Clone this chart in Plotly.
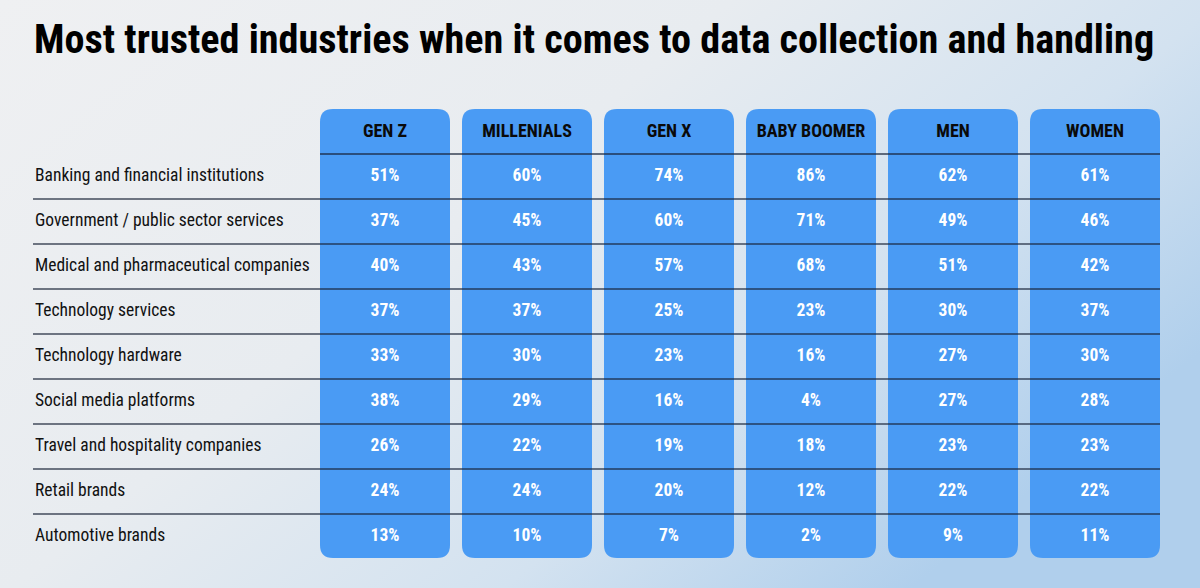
import base64
import plotly.graph_objects as go

# table content
groups = ['GEN Z', 'MILLENIALS', 'GEN X', 'BABY BOOMER', 'MEN', 'WOMEN']
industries = [
    'Banking and financial institutions',
    'Government / public sector services',
    'Medical and pharmaceutical companies',
    'Technology services',
    'Technology hardware',
    'Social media platforms',
    'Travel and hospitality companies',
    'Retail brands',
    'Automotive brands',
]
gen_z = [51, 37, 40, 37, 33, 38, 26, 24, 13]
millenials = [60, 45, 43, 37, 30, 29, 22, 24, 10]
gen_x = [74, 60, 57, 25, 23, 16, 19, 20, 7]
baby_boomer = [86, 71, 68, 23, 16, 4, 18, 12, 2]
men = [62, 49, 51, 30, 27, 27, 23, 22, 9]
women = [61, 46, 42, 37, 30, 28, 23, 22, 11]
values = [gen_z, millenials, gen_x, baby_boomer, men, women]

W, H = 1200, 588
COL_PX, ROW_PX = 142, 45          # pixel pitch of one column / one row
X0_PX, Y0_PX = 385, 177           # pixel centre of first column / first row
CONDENSED = 'Roboto Condensed, Liberation Sans Narrow, DejaVu Sans Condensed, Arial Narrow, Roboto'
BLUE = '#4a9bf4'

# axis ranges so that one unit = one column / one row
x_range = [-X0_PX / COL_PX, (W - X0_PX) / COL_PX]
y_range = [(H - Y0_PX) / ROW_PX, -Y0_PX / ROW_PX]


def px_x(p):
    return (p - X0_PX) / COL_PX


def px_y(p):
    return (p - Y0_PX) / ROW_PX


def rounded_box(xa, xb, ya, yb, r):
    rx, ry = r / COL_PX, r / ROW_PX
    return (f'M {xa+rx},{ya} L {xb-rx},{ya} Q {xb},{ya} {xb},{ya+ry} '
            f'L {xb},{yb-ry} Q {xb},{yb} {xb-rx},{yb} L {xa+rx},{yb} '
            f'Q {xa},{yb} {xa},{yb-ry} L {xa},{ya+ry} Q {xa},{ya} {xa+rx},{ya} Z')


# background gradient as an svg image
svg = f'''<svg xmlns="http://www.w3.org/2000/svg" width="{W}" height="{H}">
<defs><linearGradient id="g" x1="0" y1="0" x2="1" y2="0.6">
<stop offset="0" stop-color="#eff0f2"/>
<stop offset="0.45" stop-color="#e8ecf0"/>
<stop offset="0.75" stop-color="#d3e2f0"/>
<stop offset="1" stop-color="#b0cfec"/>
</linearGradient></defs>
<rect width="{W}" height="{H}" fill="url(#g)"/></svg>'''
bg = 'data:image/svg+xml;base64,' + base64.b64encode(svg.encode()).decode()

shapes = []
half = 65 / COL_PX
top, bottom = px_y(109), px_y(558)
for i in range(len(groups)):
    shapes.append(dict(type='path', xref='x', yref='y', layer='below',
                       path=rounded_box(i - half, i + half, top, bottom, 13),
                       fillcolor=BLUE, line=dict(width=0)))

# header separator across the boxes
shapes.append(dict(type='line', xref='x', yref='y', x0=-half, x1=len(groups) - 1 + half,
                   y0=-0.511, y1=-0.511, line=dict(color='rgba(25,35,55,0.85)', width=1.5)))
# row separators
for j in range(len(industries) - 1):
    shapes.append(dict(type='line', xref='x', yref='y', x0=px_x(33), x1=len(groups) - 1 + half,
                       y0=j + 0.489, y1=j + 0.489, line=dict(color='rgba(25,35,55,0.8)', width=1.5)))

fig = go.Figure()

fig.add_trace(go.Scatter(
    x=[px_x(35)] * len(industries), y=list(range(len(industries))),
    text=industries, mode='text', textposition='middle right',
    textfont=dict(family=CONDENSED, size=17.5, color='#111111'),
    hoverinfo='skip', showlegend=False))

fig.add_trace(go.Scatter(
    x=list(range(len(groups))), y=[-1] * len(groups),
    text=groups, mode='text', textposition='middle center',
    textfont=dict(family=CONDENSED, size=18, color='#0a0a0a', weight='bold'),
    hoverinfo='skip', showlegend=False))

for i, g in enumerate(groups):
    fig.add_trace(go.Scatter(
        x=[i] * len(values[i]), y=list(range(len(values[i]))),
        text=[f'{v}%' for v in values[i]], mode='text', textposition='middle center',
        textfont=dict(family=CONDENSED, size=17.5, color='white', weight='bold'),
        name=g, hoverinfo='text', showlegend=False))

fig.update_layout(
    width=W, height=H,
    margin=dict(l=0, r=0, t=0, b=0),
    paper_bgcolor='#eef0f2', plot_bgcolor='rgba(0,0,0,0)',
    xaxis=dict(range=x_range, visible=False, fixedrange=True),
    yaxis=dict(range=y_range, visible=False, fixedrange=True),
    shapes=shapes,
    images=[dict(source=bg, xref='paper', yref='paper', x=0, y=1, sizex=1, sizey=1,
                 sizing='stretch', layer='below', xanchor='left', yanchor='top')],
    annotations=[dict(text='<b>Most trusted industries when it comes to data collection and handling</b>',
                      xref='paper', yref='paper', x=32 / W, y=1 - 39 / H,
                      xanchor='left', yanchor='middle', showarrow=False,
                      font=dict(family=CONDENSED, size=40.2, color='#000000'))],
)

fig.write_html('out.html', config=dict(displayModeBar=False),
               post_script="document.body.style.margin='0';")
